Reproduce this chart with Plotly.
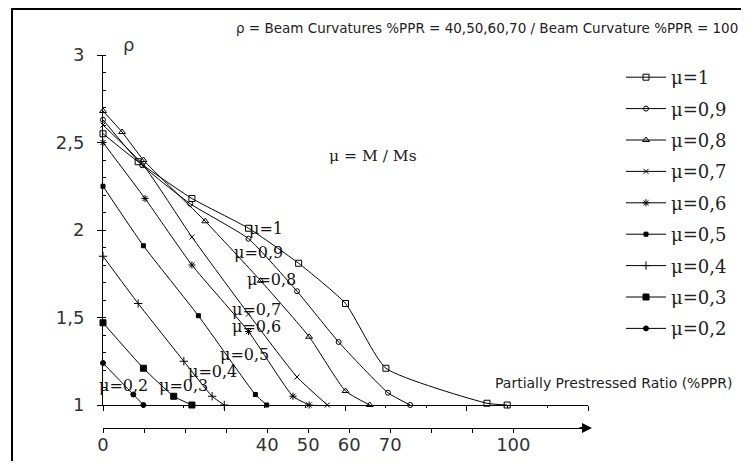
import plotly.graph_objects as go

# ---------------- data ----------------
series_names = ["μ=1", "μ=0,9", "μ=0,8", "μ=0,7", "μ=0,6", "μ=0,5", "μ=0,4", "μ=0,3", "μ=0,2"]

x_mu10 = [0, 8.7, 22, 36, 48.4, 60, 70, 95, 100]
y_mu10 = [2.55, 2.39, 2.18, 2.01, 1.81, 1.58, 1.21, 1.01, 1.0]

x_mu09 = [0, 9.7, 21.6, 36, 48, 58.3, 70.5, 76]
y_mu09 = [2.63, 2.37, 2.15, 1.95, 1.65, 1.36, 1.07, 1.0]

x_mu08 = [0, 4.7, 10, 25.3, 39, 51, 60, 66]
y_mu08 = [2.68, 2.56, 2.40, 2.05, 1.71, 1.39, 1.08, 1.0]

x_mu07 = [0, 10, 22, 36, 48, 55.5]
y_mu07 = [2.60, 2.37, 1.96, 1.52, 1.16, 1.0]

x_mu06 = [0, 10.4, 22, 36, 47, 51]
y_mu06 = [2.50, 2.18, 1.80, 1.42, 1.05, 1.0]

x_mu05 = [0, 10, 23.6, 37.7, 40.5]
y_mu05 = [2.25, 1.91, 1.51, 1.06, 1.0]

x_mu04 = [0, 8.7, 20, 27, 30]
y_mu04 = [1.85, 1.58, 1.25, 1.05, 1.0]

x_mu03 = [0, 10, 17.5, 22]
y_mu03 = [1.47, 1.21, 1.05, 1.0]

x_mu02 = [0, 7.5, 10]
y_mu02 = [1.24, 1.06, 1.0]

y_tick_vals = [1, 1.5, 2, 2.5, 3]
y_tick_text = ["1", "1,5", "2", "2,5", "3"]

ppr_tick_vals = [0, 10, 20, 30, 40, 50, 60, 70, 80, 90, 100]
ppr_tick_text = ["0", "", "", "", "40", "50", "60", "70", "", "", "100"]

# curve label positions (data coords) and texts
label_texts = ["μ=1", "μ=0,9", "μ=0,8", "μ=0,7", "μ=0,6", "μ=0,5", "μ=0,4", "μ=0,3", "μ=0,2"]
label_x = [40.3, 38.4, 41.6, 38.1, 38.1, 34.9, 27.2, 20.0, 5.0]
label_y = [2.006, 1.869, 1.720, 1.543, 1.446, 1.286, 1.189, 1.114, 1.114]

# ---------------- styling ----------------
all_x = [x_mu10, x_mu09, x_mu08, x_mu07, x_mu06, x_mu05, x_mu04, x_mu03, x_mu02]
all_y = [y_mu10, y_mu09, y_mu08, y_mu07, y_mu06, y_mu05, y_mu04, y_mu03, y_mu02]
symbols = ["square-open", "circle-open", "triangle-up-open", "x-thin-open", "asterisk-open",
           "square", "cross-thin-open", "square", "circle"]
sizes = [6, 5, 6, 5, 6, 4, 6, 6, 5]

OFF = 8  # page offset of the figure inside the html body
W, H = 733, 453
L = 103 - OFF
T = 55 - OFF
R = W - (588 - OFF)
B = H - (444 - OFF)
PW = W - L - R
PH = H - T - B


def px(p):
    return (p - OFF - L) / PW


def py(p):
    return (H - B - (p - OFF)) / PH


fig = go.Figure()
for i in range(len(all_x)):
    fig.add_trace(go.Scatter(
        x=all_x[i], y=all_y[i], name=series_names[i], mode="lines+markers",
        line=dict(color="black", width=1, shape="spline", smoothing=0.5),
        marker=dict(symbol=symbols[i], size=sizes[i], color="black",
                    line=dict(color="black", width=1)),
        legendgroup=f"g{i}",
        cliponaxis=False,
    ))

# invisible trace on lower (labelled) axis
fig.add_trace(go.Scatter(x=[0, 100], y=[1, 1], xaxis="x2", yaxis="y", mode="markers",
                         marker=dict(opacity=0), showlegend=False, hoverinfo="skip"))

y0_dom = py(405)
fig.update_layout(
    width=W, height=H,
    margin=dict(l=L, r=R, t=T, b=B, autoexpand=False),
    plot_bgcolor="white", paper_bgcolor="white",
    font=dict(family="DejaVu Sans", color="#222"),
    showlegend=True,
    legend=dict(x=px(621), y=py(59), xanchor="left", yanchor="top",
                font=dict(family="DejaVu Serif", size=18, color="#222"),
                tracegroupgap=5, traceorder="grouped", itemwidth=40,
                bgcolor="rgba(0,0,0,0)"),
    xaxis=dict(range=[0, 120], domain=[0, 1], anchor="y",
               showgrid=False, zeroline=False, showline=True, linecolor="black", linewidth=1,
               tickvals=[0, 30, 60, 90, 120], ticks="outside", ticklen=5, tickcolor="black",
               showticklabels=False,
               minor=dict(tickvals=[10, 20, 40, 50, 70, 80, 100, 110], ticks="outside",
                          ticklen=2, tickcolor="black")),
    xaxis2=dict(range=[0, 118.2], overlaying="x", anchor="free", position=py(428),
                showgrid=False, zeroline=False, showline=True, linecolor="black", linewidth=1,
                tickvals=ppr_tick_vals, ticktext=ppr_tick_text, ticks="outside", ticklen=4,
                tickcolor="black", tickfont=dict(family="DejaVu Sans", size=18, color="#333"),
                ticklabelstandoff=-4),
    yaxis=dict(range=[1, 3], domain=[y0_dom, 1], anchor="x",
               showgrid=False, zeroline=False, showline=True, linecolor="black", linewidth=1,
               tickvals=y_tick_vals, ticktext=y_tick_text, ticks="outside", ticklen=5,
               tickcolor="black", tickfont=dict(family="DejaVu Sans", size=18, color="#333"),
               ticklabelstandoff=9,
               minor=dict(dtick=0.1, ticks="inside", ticklen=3, tickcolor="black")),
)

# curve labels
for t, lx, ly in zip(label_texts, label_x, label_y):
    fig.add_annotation(x=lx, y=ly, xref="x", yref="y", text=t, showarrow=False,
                       xanchor="center", yanchor="middle",
                       font=dict(family="DejaVu Serif", size=16, color="#111"))

# texts
fig.add_annotation(x=px(740), y=py(28), xref="paper", yref="paper", xanchor="right", yanchor="middle",
                   text="ρ = Beam Curvatures %PPR = 40,50,60,70 / Beam Curvature %PPR = 100",
                   showarrow=False, font=dict(family="DejaVu Sans", size=13.5, color="#222"))
fig.add_annotation(x=px(121), y=py(44), xref="paper", yref="paper", xanchor="left", yanchor="middle",
                   text="ρ", showarrow=False, font=dict(family="DejaVu Sans", size=18, color="#333"))
fig.add_annotation(x=px(327), y=py(156), xref="paper", yref="paper", xanchor="left", yanchor="middle",
                   text="μ = M / Ms", showarrow=False,
                   font=dict(family="DejaVu Serif", size=15.5, color="#222"))
fig.add_annotation(x=px(493), y=py(383), xref="paper", yref="paper", xanchor="left", yanchor="middle",
                   text="Partially Prestressed Ratio (%PPR)", showarrow=False,
                   font=dict(family="DejaVu Sans", size=14, color="#222"))
# arrow head at the end of the lower axis
fig.add_annotation(x=px(592), y=py(428), xref="paper", yref="paper", ax=-14, ay=0,
                   text="", showarrow=True, arrowhead=2, arrowsize=1, arrowwidth=2,
                   arrowcolor="black")

# outer frame
fig.add_shape(type="rect", xref="paper", yref="paper",
              x0=px(12), x1=px(790), y0=py(520), y1=py(9),
              line=dict(color="black", width=2), fillcolor="rgba(0,0,0,0)", layer="below")

fig.write_html("out.html")
